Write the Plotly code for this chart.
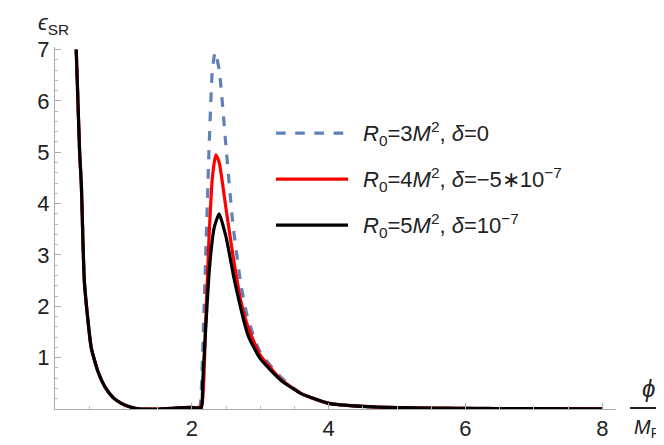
import plotly.graph_objects as go

# shared left branch (all three curves coincide here)
x_left = [0.31, 0.36, 0.385, 0.43, 0.53, 0.63, 0.73, 0.85, 0.97, 1.1, 1.26, 1.5, 1.8, 1.99, 2.1]
y_left = [7.0, 5.0, 4.37, 2.46, 1.19, 0.72, 0.43, 0.22, 0.11, 0.04, 0.0, 0.0, 0.02, 0.03, 0.02]

x_tail = [3.6, 4.0, 4.5, 5.0, 6.0, 7.0, 8.0]
y_tail = [0.3, 0.11, 0.05, 0.025, 0.012, 0.008, 0.005]

x_blue = [2.12, 2.18, 2.25, 2.3, 2.34, 2.4, 2.5, 2.6, 2.72, 2.82, 3.0, 3.3]
y_blue = [0.05, 2.0, 5.0, 6.6, 6.95, 6.6, 5.1, 3.6, 2.4, 1.75, 1.1, 0.62]

x_red = [2.15, 2.2, 2.25, 2.3, 2.35, 2.4, 2.5, 2.6, 2.72, 2.82, 3.0, 3.3]
y_red = [0.1, 1.6, 3.3, 4.5, 4.95, 4.8, 3.9, 3.0, 2.08, 1.6, 1.05, 0.58]

x_black = [2.14, 2.16, 2.26, 2.33, 2.4, 2.5, 2.63, 2.82, 3.0, 3.31]
y_black = [0.02, 0.55, 2.78, 3.55, 3.8, 3.35, 2.46, 1.44, 0.98, 0.55]

names = ["<i>R</i><sub>0</sub>=3<i>M</i><sup>2</sup>, <i>δ</i>=0",
         "<i>R</i><sub>0</sub>=4<i>M</i><sup>2</sup>, <i>δ</i>=\u22125\u221710<sup>\u22127</sup>",
         "<i>R</i><sub>0</sub>=5<i>M</i><sup>2</sup>, <i>δ</i>=10<sup>\u22127</sup>"]
colors = ["#5f81b5", "#ff0000", "#000000"]
dashes = ["dash", "solid", "solid"]
legend_rows = [127, 174, 221]

W, L, R, T, B = 664, 47, 56, 39, 36
pw, ph = W - L - R, 445 - T - B
def px(x):
    return (x - L) / pw
def py(y):
    return (409 - y) / ph

fig = go.Figure()
shapes = []
annotations = []
for xs, ys, col, dash, nm, row in zip([x_blue, x_red, x_black], [y_blue, y_red, y_black],
                                      colors, dashes, names, legend_rows):
    fig.add_trace(go.Scatter(
        x=x_left + xs + x_tail, y=y_left + ys + y_tail, mode="lines", name=nm,
        line=dict(color=col, width=3.2, dash=dash, shape="spline", smoothing=0.5)))
    # hand-placed legend entry
    shapes.append(dict(type="line", xref="paper", yref="paper", x0=px(268), x1=px(340),
                       y0=py(row), y1=py(row), line=dict(color=col, width=3.2, dash=dash)))
    annotations.append(dict(text=nm, x=px(353), y=py(row), xref="paper", yref="paper",
                            showarrow=False, xanchor="left", yanchor="middle",
                            font=dict(size=22)))

annotations += [
    dict(text="<i>ϵ</i><sub>SR</sub>", x=px(28), y=py(16), xref="paper", yref="paper",
         showarrow=False, xanchor="left", yanchor="middle", font=dict(size=22)),
    dict(text="<i>ϕ</i>", x=px(640), y=py(388), xref="paper", yref="paper",
         showarrow=False, xanchor="center", yanchor="middle", font=dict(size=24)),
    dict(text="<i>M</i><sub>Pl</sub>", x=px(640), y=py(429), xref="paper", yref="paper",
         showarrow=False, xanchor="center", yanchor="middle", font=dict(size=20)),
]
shapes.append(dict(type="line", xref="paper", yref="paper", x0=px(622), x1=px(659),
                   y0=py(408), y1=py(408), line=dict(color="#222", width=2)))

fig.update_layout(
    width=W, height=445, margin=dict(l=L, r=R, t=T, b=B), showlegend=False,
    plot_bgcolor="white", paper_bgcolor="white",
    font=dict(family="Liberation Sans, Arial", size=22, color="#222"),
    xaxis=dict(range=[0, 8.2], tickvals=[2, 4, 6, 8], showgrid=False, zeroline=False,
               tickfont=dict(size=22), showline=True, linecolor="#aaa", linewidth=1,
               ticks="inside", ticklen=6, tickcolor="#aaa",
               minor=dict(dtick=0.5, ticks="inside", ticklen=3, tickcolor="#bbb")),
    yaxis=dict(range=[0, 7.05], tickvals=[1, 2, 3, 4, 5, 6, 7], showgrid=False, zeroline=False,
               tickfont=dict(size=22), showline=True, linecolor="#aaa", linewidth=1,
               ticks="inside", ticklen=6, tickcolor="#aaa",
               minor=dict(dtick=0.2, ticks="inside", ticklen=3, tickcolor="#bbb")),
    annotations=annotations,
    shapes=shapes,
)

fig.write_html("out.html")
